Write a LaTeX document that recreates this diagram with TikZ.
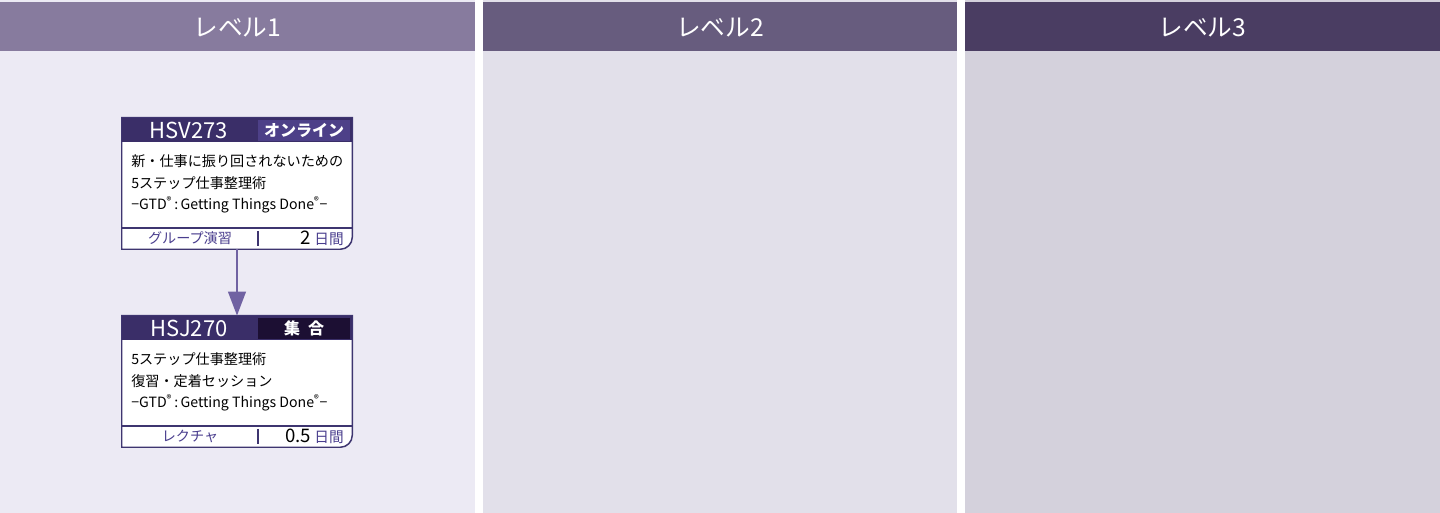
\documentclass[tikz,border=0pt]{standalone}
\usepackage{fontspec}
\setmainfont{Noto Sans CJK JP}
\usetikzlibrary{arrows.meta}

\definecolor{kopfA}{HTML}{877B9E}
\definecolor{kopfB}{HTML}{675C7E}
\definecolor{kopfC}{HTML}{4A3D62}
\definecolor{feldA}{HTML}{ECEAF4}
\definecolor{feldB}{HTML}{E2E0EA}
\definecolor{feldC}{HTML}{D4D1DC}
\definecolor{kartenkopf}{HTML}{3A2E68}
\definecolor{onlinefarbe}{HTML}{4D4088}
\definecolor{shugofarbe}{HTML}{1C0F33}
\definecolor{rahmenfarbe}{HTML}{3E3570}
\definecolor{lila}{HTML}{4A3E8E}
\definecolor{pfeilfarbe}{HTML}{7062A2}

\tikzset{
    stufe/.style={text=white, font=\fontsize{18.5}{20}\selectfont},
    karte/.style={minimum width=172.5pt, minimum height=98.25pt, inner sep=0pt},
    rahmen/.style={draw=rahmenfarbe, line width=1.1pt, fill=white},
    kurscode/.style={text=white, font=\fontsize{16.5}{18}\selectfont},
    form/.style={text=white, font=\bfseries\fontsize{12}{14}\selectfont},
    titel/.style={anchor=west, align=left, inner sep=0pt, font=\fontsize{10.6}{16.1}\selectfont},
    art/.style={text=lila, font=\fontsize{10.6}{12}\selectfont},
    dauer/.style={anchor=east, inner sep=0pt, font=\fontsize{14}{16}\selectfont},
    pfeil/.style={draw=pfeilfarbe, line width=2.2pt, -{Triangle[length=18pt, width=13pt]}}
}

\begin{document}
\begin{tikzpicture}[x=0.75pt, y=-0.75pt]
    \useasboundingbox (0,0) rectangle (1440,513);

    % Spalten
    \fill[feldA] (0,0) rectangle (475,513);
    \fill[feldB] (483,0) rectangle (957,513);
    \fill[feldC] (965,0) rectangle (1440,513);

    \fill[kopfA] (0,2) rectangle (475,51);
    \fill[kopfB] (483,2) rectangle (957,51);
    \fill[kopfC] (965,2) rectangle (1440,51);

    \node[stufe] (stufeA) at (237.5,28) {レベル1};
    \node[stufe] (stufeB) at (720,28) {レベル2};
    \node[stufe] (stufeC) at (1202.5,28) {レベル3};

    % Karte HSV273
    \node[karte] (hsv) at (237,183.5) {};
    \draw[rahmen] (hsv.north west) -- (hsv.north east) -- ([yshift=9pt]hsv.south east)
        .. controls ([yshift=4pt]hsv.south east) and ([xshift=-4pt]hsv.south east) .. ([xshift=-9pt]hsv.south east)
        -- (hsv.south west) -- cycle;
    \fill[kartenkopf] (122,118) rectangle (352,142);
    \fill[onlinefarbe] (258,120) rectangle (350,141);
    \draw[rahmenfarbe, line width=0.8pt] (122,228) -- (352,228);
    \draw[rahmenfarbe, line width=0.8pt] (258,231) -- (258,246);
    \node[kurscode] (hsvcode) at (189,130) {HSV273};
    \node[form] (hsvform) at (304,130) {オンライン};
    \node[titel] (hsvtitel) at (131,184) {新・仕事に振り回されないための\\5ステップ仕事整理術\\−GTD\textsuperscript{®}\,:\,Getting Things Done\textsuperscript{®}−};
    \node[art] (hsvart) at (190,238.5) {グループ演習};
    \node[dauer] (hsvdauer) at (344,238.5) {2\,\textcolor{lila}{\fontsize{11}{13}\selectfont 日間}};

    % Karte HSJ270
    \node[karte] (hsj) at (237,381.5) {};
    \draw[rahmen] (hsj.north west) -- (hsj.north east) -- ([yshift=9pt]hsj.south east)
        .. controls ([yshift=4pt]hsj.south east) and ([xshift=-4pt]hsj.south east) .. ([xshift=-9pt]hsj.south east)
        -- (hsj.south west) -- cycle;
    \fill[kartenkopf] (122,316) rectangle (352,340);
    \fill[shugofarbe] (258,318) rectangle (350,339);
    \draw[rahmenfarbe, line width=0.8pt] (122,426) -- (352,426);
    \draw[rahmenfarbe, line width=0.8pt] (258,429) -- (258,444);
    \node[kurscode] (hsjcode) at (189,328) {HSJ270};
    \node[form] (hsjform) at (304,328) {集\hspace{0.5em}合};
    \node[titel] (hsjtitel) at (131,382) {5ステップ仕事整理術\\復習・定着セッション\\−GTD\textsuperscript{®}\,:\,Getting Things Done\textsuperscript{®}−};
    \node[art] (hsjart) at (190,436.5) {レクチャ};
    \node[dauer] (hsjdauer) at (344,436.5) {0.5\,\textcolor{lila}{\fontsize{11}{13}\selectfont 日間}};

    \draw[pfeil] (hsv.south) -- (hsj.north);
\end{tikzpicture}
\end{document}
